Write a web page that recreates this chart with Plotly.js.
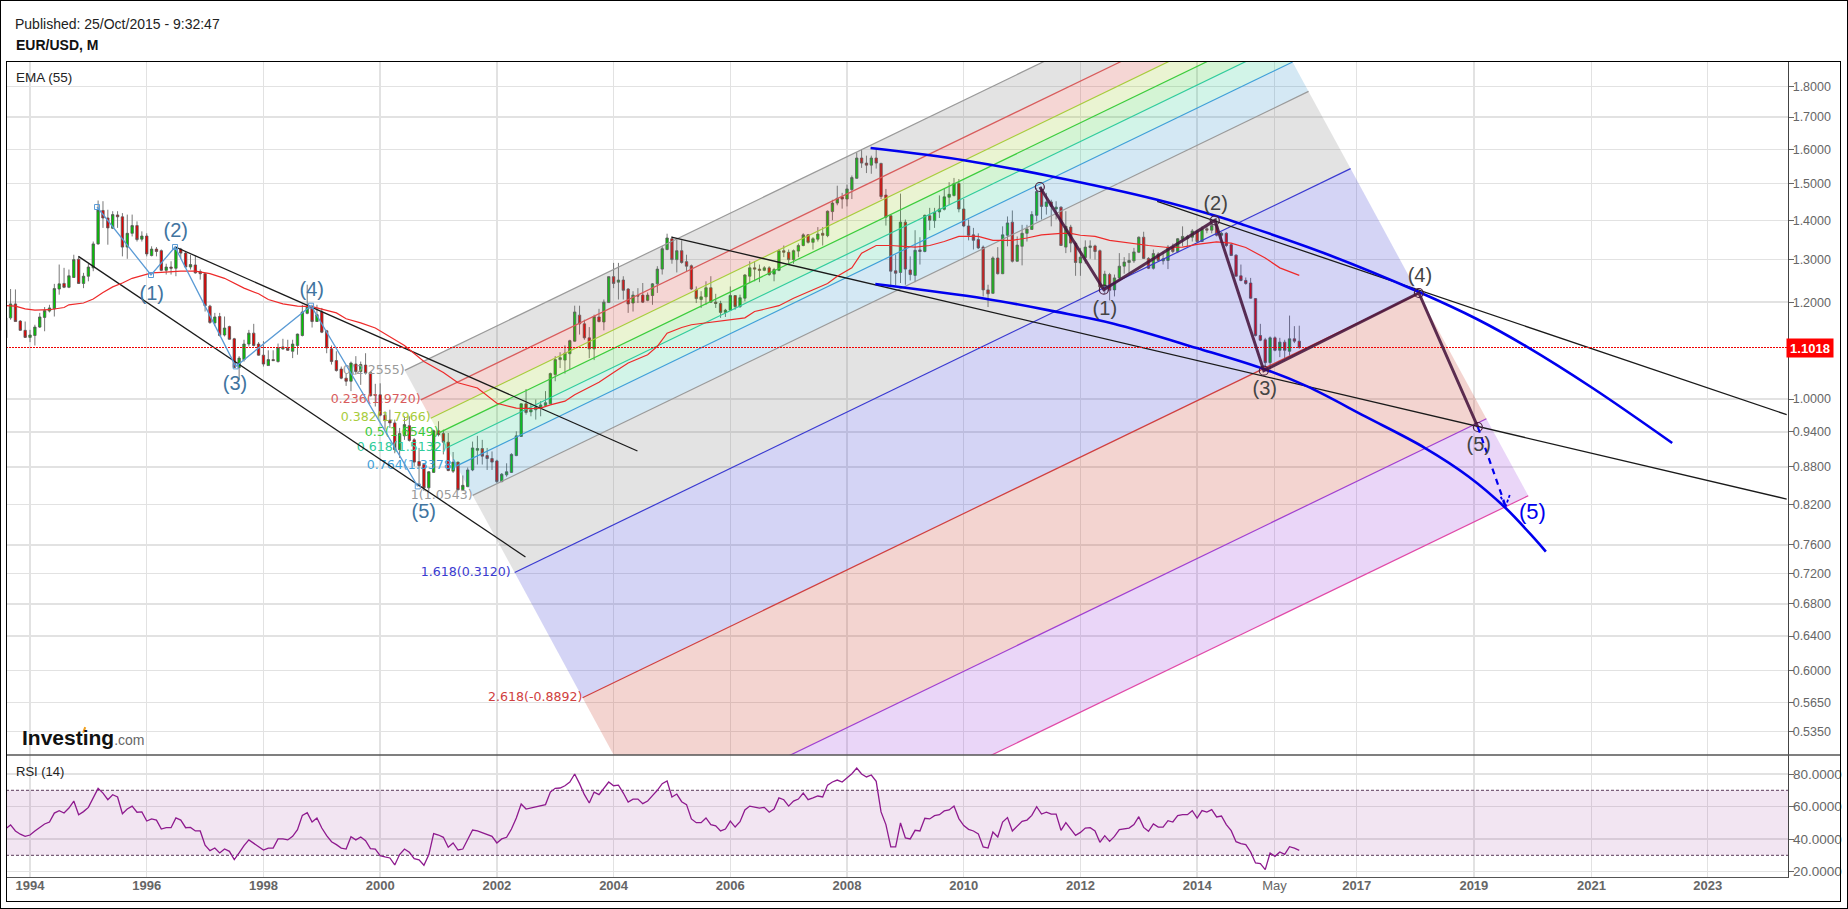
<!DOCTYPE html>
<html>
<head>
<meta charset="utf-8">
<script src="https://cdn.plot.ly/plotly-3.0.1.min.js"></script>
<style>
html,body{margin:0;padding:0;background:#fff;width:1848px;height:909px;overflow:hidden}
#outer{position:absolute;left:0;top:0;width:1848px;height:909px;box-sizing:border-box;border:1px solid #000;pointer-events:none}
#inner{position:absolute;left:6px;top:61px;width:1835px;height:841px;box-sizing:border-box;border:1.5px solid #000;pointer-events:none}
#chart{position:absolute;left:0;top:0;width:1848px;height:909px}
</style>
</head>
<body>
<div id="chart"></div><div id="outer"></div><div id="inner"></div>
<script>
// Monthly candles: first value is five months before Jan 1994, last is Oct 2015
const firstMonth = -5;
const open = [1.122,1.165,1.196,1.158,1.138,
1.123,1.127,1.145,1.166,1.180,1.185,1.230,1.243,1.234,1.257,1.301,1.243,
1.260,1.280,1.339,1.426,1.406,1.379,1.414,1.409,1.331,1.366,1.386,1.351,
1.359,1.310,1.326,1.322,1.274,1.282,1.279,1.326,1.316,1.282,1.287,1.271,
1.266,1.191,1.154,1.168,1.128,1.146,1.120,1.061,1.077,1.109,1.132,1.109,
1.086,1.065,1.077,1.073,1.099,1.100,1.094,1.106,1.127,1.175,1.190,1.157,
1.178,1.137,1.099,1.075,1.058,1.040,1.034,1.068,1.053,1.066,1.051,1.007,
1.008,.970,.961,.956,.909,.933,.951,.926,.889,.884,.846,.871,
.942,.937,.922,.873,.888,.843,.848,.875,.908,.911,.899,.894,
.890,.856,.867,.871,.899,.932,.991,.976,.980,.984,.988,.991,
1.047,1.077,1.076,1.089,1.115,1.171,1.152,1.122,1.099,1.167,1.156,1.199,
1.259,1.246,1.251,1.230,1.198,1.215,1.216,1.204,1.215,1.242,1.277,1.325,
1.352,1.300,1.322,1.295,1.285,1.228,1.206,1.212,1.233,1.200,1.197,1.177,
1.182,1.215,1.190,1.209,1.260,1.280,1.277,1.274,1.280,1.265,1.274,1.322,
1.318,1.300,1.321,1.335,1.362,1.343,1.351,1.366,1.360,1.423,1.446,1.463,
1.457,1.483,1.515,1.574,1.559,1.553,1.574,1.558,1.468,1.412,1.273,1.269,
1.395,1.275,1.262,1.324,1.320,1.412,1.399,1.422,1.429,1.462,1.467,1.500,
1.430,1.385,1.362,1.350,1.331,1.228,1.220,1.304,1.266,1.361,1.395,1.296,
1.333,1.366,1.376,1.413,1.483,1.437,1.449,1.430,1.435,1.331,1.382,1.341,
1.292,1.305,1.330,1.334,1.322,1.235,1.264,1.228,1.256,1.284,1.293,1.297,
1.318,1.356,1.303,1.279,1.314,1.297,1.298,1.331,1.320,1.351,1.352,1.356,
1.371,1.345,1.378,1.374,1.386,1.361,1.366,1.337,1.311,1.261,1.250,1.244,
1.208,1.127,1.118,1.071,1.122,1.096,1.113,1.094,1.120,1.115];
const high = [1.172,1.230,1.229,1.160,1.157,
1.139,1.150,1.176,1.189,1.194,1.242,1.288,1.280,1.276,1.312,1.308,1.268,
1.290,1.345,1.453,1.451,1.428,1.424,1.424,1.419,1.415,1.415,1.397,1.371,
1.366,1.333,1.331,1.325,1.290,1.296,1.333,1.329,1.320,1.312,1.310,1.276,
1.268,1.194,1.176,1.176,1.168,1.148,1.122,1.084,1.118,1.139,1.152,1.113,
1.115,1.096,1.096,1.110,1.120,1.118,1.118,1.131,1.194,1.240,1.194,1.194,
1.187,1.139,1.106,1.094,1.063,1.050,1.073,1.084,1.073,1.090,1.053,1.029,
1.030,.977,.980,.962,.947,.968,.968,.929,.912,.886,.873,.944,
.959,.944,.938,.905,.889,.866,.879,.923,.933,.926,.912,.906,
.892,.870,.886,.903,.941,.992,1.019,.992,.999,.996,1.015,1.051,
1.084,1.092,1.106,1.118,1.192,1.192,1.161,1.145,1.172,1.185,1.206,1.260,
1.292,1.292,1.260,1.232,1.225,1.232,1.244,1.222,1.244,1.284,1.333,1.365,
1.358,1.350,1.348,1.312,1.288,1.236,1.225,1.248,1.260,1.219,1.203,1.185,
1.236,1.216,1.217,1.265,1.296,1.296,1.288,1.284,1.284,1.280,1.326,1.335,
1.325,1.325,1.340,1.366,1.364,1.356,1.382,1.382,1.426,1.455,1.494,1.474,
1.497,1.523,1.591,1.601,1.581,1.581,1.604,1.560,1.485,1.413,1.312,1.472,
1.402,1.308,1.374,1.356,1.415,1.433,1.433,1.467,1.485,1.504,1.516,1.513,
1.457,1.402,1.380,1.366,1.335,1.240,1.308,1.331,1.384,1.410,1.426,1.358,
1.388,1.388,1.424,1.488,1.491,1.474,1.455,1.451,1.437,1.424,1.388,1.345,
1.329,1.348,1.348,1.337,1.325,1.273,1.268,1.264,1.316,1.306,1.316,1.329,
1.358,1.370,1.306,1.325,1.318,1.320,1.336,1.340,1.354,1.384,1.362,1.377,
1.375,1.384,1.384,1.403,1.406,1.369,1.369,1.340,1.313,1.288,1.257,1.256,
1.209,1.152,1.122,1.125,1.125,1.122,1.118,1.170,1.147,1.148];
const low = [1.118,1.161,1.157,1.137,1.122,
1.113,1.106,1.143,1.136,1.177,1.168,1.217,1.232,1.232,1.256,1.242,1.232,
1.248,1.272,1.337,1.380,1.337,1.377,1.380,1.308,1.302,1.358,1.345,1.345,
1.308,1.308,1.308,1.272,1.264,1.264,1.260,1.304,1.280,1.276,1.266,1.252,
1.179,1.152,1.147,1.125,1.125,1.118,1.060,1.037,1.073,1.104,1.104,1.085,
1.063,1.065,1.075,1.071,1.097,1.095,1.080,1.087,1.125,1.173,1.144,1.156,
1.132,1.090,1.067,1.053,1.038,1.025,1.015,1.047,1.027,1.047,1.005,.986,
.968,.944,.947,.903,.895,.926,.923,.881,.848,.841,.841,.870,
.932,.901,.873,.870,.842,.842,.847,.873,.884,.884,.875,.875,
.854,.855,.864,.870,.898,.931,.971,.968,.962,.968,.988,.991,
1.034,1.060,1.049,1.057,1.114,1.129,1.118,1.080,1.076,1.155,1.138,1.198,
1.232,1.206,1.206,1.176,1.179,1.198,1.198,1.202,1.194,1.221,1.264,1.323,
1.290,1.269,1.290,1.272,1.228,1.198,1.187,1.194,1.198,1.187,1.165,1.167,
1.181,1.183,1.187,1.202,1.244,1.248,1.246,1.272,1.261,1.248,1.272,1.306,
1.288,1.290,1.306,1.333,1.340,1.325,1.345,1.335,1.356,1.400,1.440,1.431,
1.437,1.457,1.513,1.545,1.530,1.528,1.543,1.457,1.386,1.234,1.239,1.244,
1.240,1.250,1.246,1.288,1.318,1.374,1.380,1.406,1.426,1.441,1.464,1.421,
1.382,1.348,1.325,1.326,1.213,1.189,1.219,1.264,1.265,1.333,1.293,1.295,
1.286,1.345,1.375,1.397,1.402,1.415,1.384,1.402,1.335,1.316,1.318,1.261,
1.261,1.290,1.302,1.300,1.232,1.219,1.204,1.213,1.252,1.266,1.268,1.292,
1.316,1.302,1.277,1.276,1.296,1.288,1.277,1.316,1.316,1.333,1.333,1.345,
1.343,1.344,1.366,1.366,1.358,1.345,1.331,1.310,1.260,1.248,1.240,1.208,
1.125,1.115,1.058,1.057,1.094,1.082,1.080,1.085,1.111,1.099];
const close = [1.165,1.196,1.157,1.138,1.123,
1.128,1.145,1.167,1.181,1.187,1.231,1.242,1.234,1.261,1.300,1.243,1.260,
1.282,1.339,1.427,1.406,1.380,1.415,1.409,1.331,1.366,1.386,1.350,1.359,
1.314,1.326,1.320,1.274,1.282,1.279,1.329,1.316,1.282,1.288,1.268,1.266,
1.192,1.155,1.167,1.127,1.143,1.119,1.061,1.080,1.109,1.132,1.106,1.086,
1.068,1.077,1.075,1.101,1.103,1.096,1.109,1.130,1.178,1.191,1.157,1.172,
1.134,1.101,1.073,1.055,1.040,1.034,1.070,1.053,1.067,1.050,1.006,1.008,
.970,.960,.956,.909,.937,.953,.925,.888,.882,.846,.872,.942,
.935,.922,.874,.888,.843,.850,.875,.912,.911,.898,.894,.888,
.856,.868,.872,.901,.933,.991,.975,.980,.985,.989,.993,1.049,
1.077,1.081,1.090,1.116,1.178,1.152,1.122,1.099,1.168,1.157,1.200,1.259,
1.243,1.251,1.227,1.196,1.216,1.214,1.200,1.216,1.242,1.277,1.327,1.354,
1.300,1.322,1.293,1.284,1.230,1.208,1.212,1.233,1.200,1.197,1.177,1.182,
1.215,1.190,1.210,1.263,1.280,1.277,1.274,1.280,1.264,1.276,1.322,1.318,
1.300,1.322,1.335,1.362,1.343,1.352,1.364,1.361,1.424,1.446,1.459,1.457,
1.485,1.517,1.574,1.559,1.553,1.574,1.559,1.464,1.408,1.272,1.267,1.395,
1.277,1.264,1.323,1.320,1.413,1.400,1.421,1.430,1.463,1.470,1.500,1.430,
1.385,1.361,1.348,1.329,1.228,1.219,1.304,1.266,1.362,1.393,1.296,1.336,
1.366,1.377,1.415,1.478,1.437,1.449,1.437,1.435,1.335,1.384,1.341,1.293,
1.306,1.331,1.334,1.320,1.235,1.265,1.227,1.256,1.284,1.294,1.298,1.319,
1.356,1.303,1.279,1.315,1.298,1.302,1.331,1.320,1.352,1.358,1.358,1.372,
1.345,1.377,1.374,1.386,1.361,1.366,1.335,1.310,1.260,1.250,1.243,1.209,
1.127,1.117,1.071,1.122,1.096,1.113,1.096,1.120,1.115,1.102];

const rsi = [46.4,48.7,45.0,43.0,41.7,
42.5,45.0,47.4,49.3,50.5,56.0,57.5,56.0,59.1,63.4,55.0,56.9,
59.5,65.3,71.2,68.3,64.2,67.3,65.9,55.6,58.5,60.3,56.5,56.7,
51.1,52.4,51.7,46.2,47.0,47.0,53.0,51.7,47.0,47.2,45.0,45.0,
36.2,32.9,34.5,31.5,33.9,32.5,27.4,31.5,36.0,39.5,37.4,35.6,
33.3,34.5,34.5,40.1,40.1,39.5,41.7,45.8,54.6,56.3,50.5,53.0,
46.8,42.1,38.4,36.6,34.5,33.9,41.5,39.5,41.3,39.0,34.1,33.9,
29.8,29.0,28.4,24.1,30.5,33.9,31.9,28.0,27.2,23.9,30.3,43.4,
42.5,41.1,35.0,37.6,33.3,33.9,39.7,45.6,45.0,43.8,43.0,41.7,
37.6,40.1,41.1,46.2,53.0,61.6,58.5,59.1,59.7,60.3,61.2,68.9,
71.2,71.4,72.8,75.1,80.0,74.1,67.3,62.2,68.9,67.3,71.0,75.1,
72.8,73.2,68.3,62.8,64.6,64.6,61.8,63.4,66.7,70.0,74.1,75.7,
65.9,67.7,63.0,61.2,52.4,50.1,50.1,53.0,48.9,48.1,45.0,46.2,
51.1,47.4,50.7,57.9,60.3,59.7,59.1,59.5,56.5,58.5,65.3,64.2,
60.3,63.4,64.6,68.3,64.2,65.3,66.5,65.9,73.2,75.1,76.3,75.1,
77.5,80.2,83.7,80.0,78.2,79.4,75.5,56.7,48.9,35.2,35.2,49.9,
40.7,40.1,45.4,45.0,52.8,52.4,54.4,55.0,57.3,57.9,60.3,52.6,
48.3,46.0,45.0,43.2,35.2,34.5,44.4,41.3,50.5,53.2,45.0,48.2,
50.9,51.7,54.6,59.9,55.4,56.6,55.4,55.4,45.4,50.1,45.8,42.3,
44.1,46.8,47.0,45.0,38.0,42.1,38.6,41.7,45.8,46.2,46.8,48.9,
53.8,47.2,44.8,49.3,47.4,47.4,51.3,50.5,54.4,55.0,55.0,57.5,
52.9,57.5,56.6,58.1,53.6,54.2,48.9,45.2,38.4,37.2,36.6,32.1,
25.3,24.9,21.2,31.4,29.4,32.1,30.6,35.3,34.5,33.1];

const emaMonth = [-5,-3,-1,1,4,7,8,11,13,15,17,19,21,23,25,27,31,34,37,40,42,44,47,49,52,55,58,60,63,65,68,71,74,77,81,85,88,92,96,100,103,105,107,110,112,114,117,120,123,127,129,131,134,136,139,143,147,149,154,157,161,164,166,169,171,174,177,180,182,185,188,191,195,198,202,205,208,212,214,216,219,222,226,230,234,237,240,244,247,250,254,257,261];
const emaValue = [1.192,1.191,1.185,1.182,1.183,1.188,1.194,1.198,1.207,1.222,1.235,1.244,1.255,1.262,1.268,1.269,1.272,1.272,1.266,1.255,1.243,1.232,1.219,1.206,1.196,1.191,1.190,1.185,1.176,1.163,1.154,1.143,1.124,1.106,1.073,1.051,1.031,1.021,.992,.983,.982,.983,.989,.996,1.008,1.018,1.032,1.051,1.070,1.087,1.104,1.132,1.144,1.150,1.154,1.159,1.165,1.179,1.192,1.209,1.228,1.243,1.260,1.280,1.316,1.335,1.335,1.333,1.331,1.335,1.345,1.358,1.358,1.348,1.348,1.354,1.362,1.366,1.366,1.361,1.358,1.348,1.341,1.335,1.330,1.331,1.338,1.344,1.341,1.330,1.304,1.280,1.262];

// Fibonacci channel levels: each level runs from a start point to an end point
const fibLevel      = [0,.236,.382,.5,.618,.764,1,1.618,2.618,3.618,4.236];
const fibStartMonth = [77.06,80.35,82.39,84.05,85.69,87.73,91.02,99.66,113.62,127.59,136.2];
const fibStartPrice = [1.0553,.9983,.9645,.9382,.9124,.8817,.8341,.7213,.5699,.4505,.3897];
const fibEndMonth   = [248.95,252.24,254.28,255.94,257.58,259.62,262.91,271.55,285.51,299.48,308.09];
const fibEndPrice   = [2.2574,2.1355,2.0632,2.0069,1.9517,1.8860,1.7842,1.5429,1.2192,.9636,.8336];
const fibLabel      = ["0(2.2555)","0.236(1.9720)","0.382(1.7966)","0.5(1.6549)","0.618(1.5132)","0.764(1.3378)","1(1.0543)","1.618(0.3120)\u00A0","2.618(-0.8892)","",""];
const fibLine       = ["#9a9a9a","#d85c5c","#a8cc3c","#3ccc3c","#30cc9c","#3f9fd8","#9a9a9a","#3a3ad0","#d04040","#a040d0","#e04aa8"];
const fibBand       = ["rgba(128,128,128,.22)","rgba(210,70,60,.22)","rgba(150,200,30,.2)","rgba(40,200,40,.2)","rgba(30,200,140,.2)","rgba(40,140,200,.2)","rgba(128,128,128,.22)","rgba(60,60,210,.22)","rgba(200,60,40,.22)","rgba(150,50,220,.2)"];

// Elliott wave drawn in thin blue on the left
const waveAMonth = [13.78,24.88,29.82,42.3,57.79,79.73];
const waveAPrice = [1.4353,1.2629,1.3312,1.0633,1.1920,.8483];
const waveALabelMonth = [25.03,29.96,42.16,57.93,80.97];
const waveALabelPrice = [1.2169,1.3693,1.0259,1.2261,.8069];
const waveLabels = ["(1)","(2)","(3)","(4)","(5)"];

// Elliott wave drawn in thick maroon on the right
const waveBMonth = [207.65,220.81,243.63,253.71,285.59,297.72];
const waveBPrice = [1.4904,1.2284,1.3996,1.0547,1.2208,.9487];
const waveBLabelMonth = [221.02,243.8,253.9,285.8,297.9];
const waveBLabelPrice = [1.183,1.4415,1.0163,1.2581,.9159];

// Black trend lines [startMonth,endMonth],[startPrice,endPrice]
const trendMonths = [[9.95,101.88],[29.9,124.91],[131.91,361.23],[231.78,361.23]];
const trendPrices = [[1.3079,.7428],[1.3312,.9068],[1.3565,.8284],[1.4505,.9709]];

// Blue projection curves
const curveAMonth = [172.85,192.35,210.63,231.78,244.63,249.05,266.05,285.6,297.5,307.68,321.3,337.69];
const curveAPrice = [1.6039,1.5669,1.5187,1.4551,1.4085,1.3901,1.3163,1.2231,1.1625,1.1041,1.0209,.9205];
const curveBMonth = [173.82,196.42,210.63,222.83,239.9,254.13,262.64,274.55,286.87,295.79,303.44,309.38,311.71];
const curveBPrice = [1.2417,1.2078,1.1793,1.1523,1.1007,1.0567,1.024,.9678,.9119,.8644,.8145,.7688,.7502];

// Dashed projection arrow
const arrowMonth = [297.72,303.44];
const arrowPrice = [.9487,.8170];
const arrowHeadMonth = [302.42,303.44,304.3];
const arrowHeadPrice = [.8320,.8170,.8352];
const altLabelMonth = [308.96];
const altLabelPrice = [.8069];

const lastPrice = 1.1018;

// Axes
const xMin = -4.94, xMax = 361.5;
const monthTicks  = [0,24,48,72,96,120,144,168,192,216,240,255.9,272.8,296.9,321.1,345];
const monthLabels = ["<b>1994</b>","<b>1996</b>","<b>1998</b>","<b>2000</b>","<b>2002</b>","<b>2004</b>","<b>2006</b>","<b>2008</b>","<b>2010</b>","<b>2012</b>","<b>2014</b>","May","<b>2017</b>","<b>2019</b>","<b>2021</b>","<b>2023</b>"];
const priceTicks = [1.8,1.7,1.6,1.5,1.4,1.3,1.2,1.0,.94,.88,.82,.76,.72,.68,.64,.60,.565,.535];
const priceTickLabels = ["1.8000","1.7000","1.6000","1.5000","1.4000","1.3000","1.2000","1.0000","0.9400","0.8800","0.8200","0.7600","0.7200","0.6800","0.6400","0.6000","0.5650","0.5350"];
const rsiTicks = [80,60,40,20];
const rsiTickLabels = ["80.0000","60.0000","40.0000","20.0000"];
const rsiLow = 30, rsiHigh = 70;

const months = open.map((_, i) => i + firstMonth);
const narrow = '"Liberation Sans Narrow","Liberation Sans",Arial,sans-serif';
const sans = '"Liberation Sans",Arial,sans-serif';
const deja = '"DejaVu Sans",sans-serif';
const grid = '#e2e2e2';
const traces = [];
const line = (x, y, color, width, dash, yaxis, shape) => ({x, y, mode:'lines', type:'scatter', yaxis:yaxis||'y', hoverinfo:'skip', showlegend:false, line:{color, width, dash:dash||'solid', shape:shape||'linear', smoothing:1}});

// Fibonacci bands
for (let k = 0; k < fibBand.length; k++) {
  traces.push({type:'scatter', mode:'none', fill:'toself', fillcolor:fibBand[k], hoverinfo:'skip', showlegend:false,
    x:[fibStartMonth[k],fibEndMonth[k],fibEndMonth[k+1],fibStartMonth[k+1],fibStartMonth[k]],
    y:[fibStartPrice[k],fibEndPrice[k],fibEndPrice[k+1],fibStartPrice[k+1],fibStartPrice[k]]});
}
for (let k = 0; k < fibLevel.length; k++) {
  traces.push(line([fibStartMonth[k],fibEndMonth[k]],[fibStartPrice[k],fibEndPrice[k]],fibLine[k],1.2));
}
traces.push({type:'scatter', mode:'text', x:fibStartMonth.slice(0,9), y:fibStartPrice.slice(0,9), text:fibLabel.slice(0,9), textposition:'middle left',
  textfont:{family:deja, size:12.6, color:fibLine.slice(0,9)}, hoverinfo:'skip', showlegend:false, cliponaxis:false});

// Trend lines below the candles
for (let k = 0; k < trendMonths.length; k++) traces.push(line(trendMonths[k],trendPrices[k],'#1a1a1a',1.3));

// Candles
traces.push({type:'candlestick', x:months, open, high, low, close, width:.7, whiskerwidth:0, hoverinfo:'skip', showlegend:false,
  increasing:{line:{color:'#555555',width:.8}, fillcolor:'#00c800'},
  decreasing:{line:{color:'#555555',width:.8}, fillcolor:'#e60000'}});

// EMA and last price
traces.push(line(emaMonth,emaValue,'#ee2a2a',1.2));
traces.push(line([xMin,xMax],[lastPrice,lastPrice],'#f00000',1.2,'2px,1px'));

// Waves
traces.push({type:'scatter', mode:'lines+markers', x:waveAMonth, y:waveAPrice, hoverinfo:'skip', showlegend:false,
  line:{color:'#5b9bd5',width:1.3}, marker:{symbol:'square-open',size:5,color:'#5b9bd5',line:{width:1,color:'#5b9bd5'}}});
traces.push(line(curveAMonth,curveAPrice,'#0000ee',2.6,'solid','y','spline'));
traces.push(line(curveBMonth,curveBPrice,'#0000ee',2.6,'solid','y','spline'));
traces.push({type:'scatter', mode:'lines+markers', x:waveBMonth, y:waveBPrice, hoverinfo:'skip', showlegend:false,
  line:{color:'rgba(70,20,60,.88)',width:3}, marker:{symbol:'circle-open',size:9,color:'#4a1f3f',line:{width:1.2,color:'#4a1f3f'}}});
traces.push(line(arrowMonth,arrowPrice,'#0000ee',2.2,'6px,5px'));
traces.push(line(arrowHeadMonth,arrowHeadPrice,'#0000ee',1.8,'3px,2px'));

// Wave labels
traces.push({type:'scatter', mode:'text', x:waveALabelMonth, y:waveALabelPrice, text:waveLabels, textposition:'middle center',
  textfont:{family:sans,size:20,color:'#41749f'}, hoverinfo:'skip', showlegend:false});
traces.push({type:'scatter', mode:'text', x:waveBLabelMonth, y:waveBLabelPrice, text:waveLabels, textposition:'middle center',
  textfont:{family:sans,size:20,color:'#444444'}, hoverinfo:'skip', showlegend:false});
traces.push({type:'scatter', mode:'text', x:altLabelMonth, y:altLabelPrice, text:[waveLabels[4]], textposition:'middle center',
  textfont:{family:sans,size:22,color:'#0000ee'}, hoverinfo:'skip', showlegend:false});

// RSI panel
traces.push({type:'scatter', mode:'none', fill:'toself', fillcolor:'rgba(128,0,128,.1)', yaxis:'y2', hoverinfo:'skip', showlegend:false,
  x:[xMin,xMax,xMax,xMin,xMin], y:[rsiLow,rsiLow,rsiHigh,rsiHigh,rsiLow]});
traces.push(line([xMin,xMax],[rsiHigh,rsiHigh],'#7a5f7a',1.2,'3px,2px','y2'));
traces.push(line([xMin,xMax],[rsiLow,rsiLow],'#7a5f7a',1.2,'3px,2px','y2'));
traces.push(line(months,rsi,'#8e1a8e',1.3,'solid','y2'));

// Layout
const PL=6.3, PR=1788, PT=61.3, PB=877.3, PD=755.3;
const px = v => (v-PL)/(PR-PL);
const py = v => (PB-v)/(PB-PT);
const note = (text,x,y,font,extra) => Object.assign({text,x:px(x),y:py(y),xref:'paper',yref:'paper',xanchor:'left',yanchor:'middle',showarrow:false,font},extra||{});

const layout = {
  width:1848, height:909, autosize:false,
  margin:{l:PL,r:1848-PR,t:PT,b:909-PB,pad:0},
  paper_bgcolor:'rgba(0,0,0,0)', plot_bgcolor:'#ffffff',
  showlegend:false, dragmode:false,
  title:{text:'<b>EUR/USD, M</b>', x:16/1848, xref:'container', xanchor:'left', y:1-45.5/909, yref:'container', yanchor:'middle', font:{family:sans,size:14,color:'#111'}},
  xaxis:{type:'linear', range:[xMin,xMax], anchor:'y2', rangeslider:{visible:false}, tickmode:'array', tickvals:monthTicks, ticktext:monthLabels,
    showgrid:true, gridcolor:grid, gridwidth:1.4, zeroline:false, showline:true, linecolor:'#555', linewidth:1.4, ticks:'', ticklabelstandoff:-4,
    tickfont:{family:narrow,size:13,color:'#666'}},
  yaxis:{type:'log', range:[-0.2910,0.2763], domain:[(PB-PD)/(PB-PT),1], side:'right', anchor:'x', tickmode:'array', tickvals:priceTicks, ticktext:priceTickLabels,
    showgrid:true, gridcolor:grid, gridwidth:1.4, zeroline:false, showline:true, linecolor:'#444', linewidth:1.2, ticks:'outside', ticklen:5, tickcolor:'#666', ticklabelstandoff:-4,
    tickfont:{family:narrow,size:12.5,color:'#666'}},
  yaxis2:{type:'linear', range:[16.7,91.7], domain:[0,(PB-PD)/(PB-PT)], side:'right', anchor:'x', tickmode:'array', tickvals:rsiTicks, ticktext:rsiTickLabels,
    showgrid:true, gridcolor:grid, gridwidth:1.4, zeroline:false, showline:true, linecolor:'#444', linewidth:1.2, ticks:'outside', ticklen:5, tickcolor:'#666', ticklabelstandoff:-4,
    tickfont:{family:narrow,size:13.5,color:'#666'}},
  shapes:[
    {type:'line', xref:'paper', yref:'paper', x0:0, x1:(1840.5-PL)/(PR-PL), y0:py(PD), y1:py(PD), line:{color:'#555',width:1.4}},
    {type:'line', xref:'paper', yref:'paper', x0:px(83.5), x1:px(85.5), y0:py(733), y1:py(727.5), line:{color:'#f0a020',width:2}}
  ],
  annotations:[
    note('Published: 25/Oct/2015 - 9:32:47',13.5,24.5,{family:sans,size:14,color:'#222'}),
    note('EMA (55)',14.5,78,{family:sans,size:13.5,color:'#222'}),
    note('RSI (14)',14.5,772,{family:sans,size:13,color:'#222'}),
    note('<b>Investing</b><span style="font-size:14px;color:#666">.com</span>',20,738,{family:narrow,size:21,color:'#111'}),
    {text:'<b>1.1018</b>', xref:'paper', yref:'y', x:px(1810), y:Math.log10(lastPrice), xanchor:'center', yanchor:'middle', showarrow:false,
     bgcolor:'#ff0000', font:{family:narrow,size:13,color:'#fff'}, width:44, height:16}
  ]
};
Plotly.newPlot('chart', traces, layout, {staticPlot:true, displayModeBar:false});
</script>
</body>
</html>
